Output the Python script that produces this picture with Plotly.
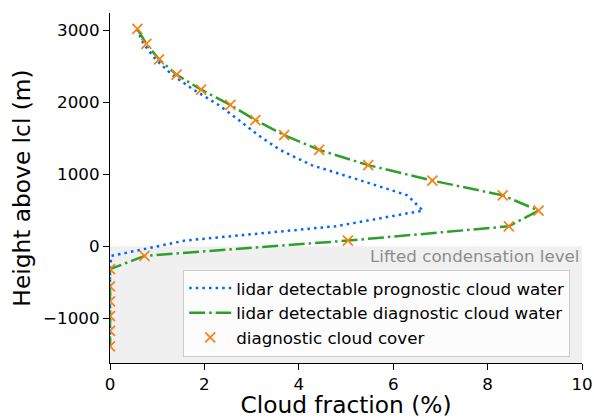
import plotly.graph_objects as go

# Model levels relative to the lifted condensation level (m)
height_m = [3020, 2811, 2597, 2385, 2176, 1964, 1753, 1544, 1340, 1128, 913,
            708, 496, 278, 79, -133, -318, -556, -764, -969, -1174, -1389]

# Cloud fraction profiles (%)
prognostic_water = [0.57, 0.71, 0.97, 1.31, 1.77, 2.30, 2.73, 3.14, 3.60, 4.27, 5.32,
                    6.30, 6.63, 4.78, 1.58, 0.03, 0.0, 0.0, 0.0, 0.0, 0.0, 0.0]
diagnostic_water = [0.58, 0.77, 1.04, 1.41, 1.93, 2.55, 3.08, 3.69, 4.43, 5.47, 6.83,
                    8.32, 9.08, 8.45, 5.04, 0.73, 0.0, 0.0, 0.0, 0.0, 0.0, 0.0]
diagnostic_cover = [0.58, 0.77, 1.04, 1.41, 1.93, 2.55, 3.08, 3.69, 4.43, 5.47, 6.83,
                    8.32, 9.08, 8.45, 5.04, 0.73, 0.0, 0.0, 0.0, 0.0, 0.0, 0.0]

x_ticks = [0, 2, 4, 6, 8, 10]
y_ticks = [-1000, 0, 1000, 2000, 3000]
x_range = [0, 10]
y_range = [-1621, 3241]

FONT = "DejaVu Sans"
SMALL = 16.7
LARGE = 23.3

fig = go.Figure()

fig.add_trace(go.Scatter(
    x=prognostic_water, y=height_m, mode="lines",
    name="lidar detectable prognostic cloud water",
    line=dict(color="#0165fc", width=2.5, dash="2.5px,4.1px"),
))
fig.add_trace(go.Scatter(
    x=diagnostic_water, y=height_m, mode="lines",
    name="lidar detectable diagnostic cloud water",
    line=dict(color="#2ca02c", width=2.5, dash="16px,4px,2.5px,4px"),
))
fig.add_trace(go.Scatter(
    x=diagnostic_cover, y=height_m, mode="markers",
    name="diagnostic cloud cover",
    marker=dict(symbol="x-thin", size=10, color="#ff7f0e",
                line=dict(color="#ff7f0e", width=1.7)),
))

# Shaded region below the lifted condensation level
fig.add_shape(type="rect", xref="x", yref="y",
              x0=x_range[0], x1=x_range[1], y0=y_range[0], y1=0,
              fillcolor="#f0f0f0", line=dict(width=0), layer="below")

fig.add_annotation(x=x_range[1], y=0, xref="x", yref="y",
                   text="Lifted condensation level", showarrow=False,
                   xanchor="right", yanchor="top", yshift=2,
                   font=dict(family=FONT, size=SMALL, color="#8c8c8c"))

axis_common = dict(
    showline=True, linecolor="black", linewidth=1.3,
    ticks="outside", ticklen=6, tickwidth=1.3, tickcolor="black",
    showgrid=False, zeroline=False, mirror=False,
    tickfont=dict(family=FONT, size=SMALL, color="black"),
)

fig.update_xaxes(range=x_range, tickvals=x_ticks,
                 title=dict(text="Cloud fraction (%)", standoff=5,
                            font=dict(family=FONT, size=LARGE, color="black")),
                 **axis_common)
fig.update_yaxes(range=y_range, tickvals=y_ticks,
                 title=dict(text="Height above lcl (m)", standoff=5,
                            font=dict(family=FONT, size=LARGE, color="black")),
                 **axis_common)

fig.update_layout(
    width=594, height=418,
    margin=dict(l=110, r=12, t=13, b=55, autoexpand=False),
    plot_bgcolor="white", paper_bgcolor="white",
    font=dict(family=FONT, size=SMALL, color="black"),
    legend=dict(x=0.975, y=0.018, xanchor="right", yanchor="bottom",
                itemwidth=42,
                bgcolor="rgba(255,255,255,0.8)", bordercolor="#cccccc",
                borderwidth=1, font=dict(family=FONT, size=SMALL, color="black")),
    showlegend=True,
)

fig.write_html("out.html")
